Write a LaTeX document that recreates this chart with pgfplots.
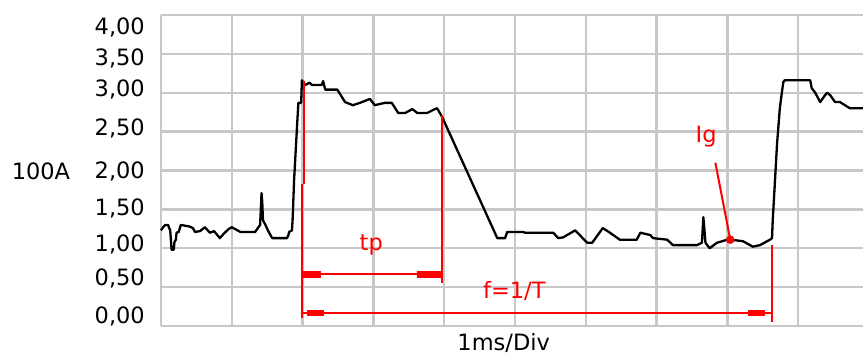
\documentclass[border=0pt]{standalone}
\usepackage{fontspec}
\setmainfont{DejaVu Sans}
\usepackage{pgfplots}
\pgfplotsset{compat=1.18}
\definecolor{gridc}{RGB}{200,200,200}
\newcommand\lab{\fontsize{22.5}{27}\selectfont}
\begin{document}
\begin{tikzpicture}[x=1pt,y=1pt]
\begin{axis}[
  at={(161pt,32pt)}, anchor=south west,
  scale only axis, width=702pt, height=311pt,
  xmin=0, xmax=9.915, ymin=0, ymax=4,
  axis line style={draw=none},
  xtick={0,1,2,3,4,5,6,7,8,9},
  xticklabel=\empty,
  xmajorgrids,
  major grid style={gridc, line width=2.4pt},
  minor ytick={0,0.5,1,1.5,2,2.5,3,3.5,4},
  yminorgrids,
  minor grid style={gridc, line width=2.4pt},
  ytick={0.129,0.617,1.055,1.518,1.994,2.547,3.048,3.447,3.846},
  yticklabels={{0,00},{0,50},{1,00},{1,50},{2,00},{2,50},{3,00},{3,50},{4,00}},
  yticklabel style={font=\lab, inner sep=0pt, xshift=-16pt},
  major tick length=0pt, minor tick length=0pt,
  clip=false,
]
\addplot[black, line width=2.3pt, line join=round] coordinates {
(0.00,1.23)(0.03,1.27)(0.06,1.30)(0.10,1.30)(0.12,1.25)(0.13,1.23)(0.15,0.98)(0.18,0.98)(0.19,1.08)(0.21,1.11)(0.22,1.20)(0.25,1.21)(0.28,1.30)(0.40,1.28)(0.45,1.26)(0.48,1.21)(0.55,1.22)(0.62,1.27)(0.69,1.20)(0.75,1.22)(0.83,1.13)(0.90,1.20)(0.96,1.25)(1.00,1.27)(1.12,1.21)(1.33,1.21)(1.36,1.25)(1.40,1.30)(1.42,1.71)(1.43,1.60)(1.44,1.36)(1.47,1.31)(1.51,1.23)(1.57,1.13)(1.78,1.13)(1.80,1.17)(1.81,1.21)(1.85,1.23)(1.86,1.39)(1.88,1.88)(1.91,2.38)(1.94,2.87)(1.98,2.87)(1.99,3.16)(2.03,3.10)(2.06,3.11)(2.10,3.13)(2.13,3.10)(2.27,3.10)(2.29,3.15)(2.32,3.04)(2.49,3.04)(2.60,2.88)(2.71,2.84)(2.81,2.87)(2.95,2.92)(3.02,2.84)(3.16,2.87)(3.26,2.87)(3.35,2.74)(3.45,2.74)(3.55,2.79)(3.62,2.74)(3.76,2.74)(3.87,2.79)(3.90,2.80)(3.97,2.69)(4.75,1.13)(4.86,1.13)(4.89,1.21)(5.11,1.21)(5.14,1.20)(5.54,1.20)(5.61,1.13)(5.68,1.14)(5.85,1.23)(6.02,1.07)(6.09,1.07)(6.24,1.26)(6.34,1.20)(6.48,1.11)(6.72,1.11)(6.77,1.20)(6.91,1.17)(6.95,1.13)(7.15,1.11)(7.23,1.04)(7.37,1.04)(7.57,1.04)(7.64,1.07)(7.66,1.40)(7.67,1.30)(7.69,1.07)(7.75,1.00)(7.85,1.07)(8.00,1.11)(8.05,1.11)(8.22,1.09)(8.36,1.02)(8.46,1.04)(8.60,1.11)(8.63,1.13)(8.64,1.36)(8.67,1.84)(8.70,2.33)(8.74,2.80)(8.77,3.01)(8.79,3.14)(8.81,3.16)(9.17,3.16)(9.19,3.06)(9.24,3.00)(9.31,2.88)(9.38,2.97)(9.41,3.00)(9.45,2.97)(9.52,2.88)(9.59,2.88)(9.73,2.80)(9.915,2.80)
};
% red annotations
\addplot[red, line width=2pt] coordinates {(2.02,3.15)(2.02,1.83)};
\addplot[red, line width=2pt] coordinates {(1.99,1.83)(1.99,0.10)};
\addplot[red, line width=2pt] coordinates {(3.97,2.72)(3.97,0.55)};
\addplot[red, line width=2pt] coordinates {(1.99,0.665)(3.97,0.665)};
\addplot[red, line width=6.5pt] coordinates {(2.00,0.665)(2.26,0.665)};
\addplot[red, line width=6.5pt] coordinates {(3.62,0.665)(3.96,0.665)};
\addplot[red, line width=2pt] coordinates {(1.99,0.167)(8.63,0.167)};
\addplot[red, line width=5.5pt] coordinates {(2.06,0.167)(2.30,0.167)};
\addplot[red, line width=5.5pt] coordinates {(8.29,0.167)(8.53,0.167)};
\addplot[red, line width=2pt] coordinates {(8.63,1.04)(8.63,0.05)};
\addplot[red, line width=2pt] coordinates {(7.83,2.10)(8.04,1.11)};
\addplot[red, only marks, mark=*, mark size=4pt] coordinates {(8.04,1.11)};
\node[red, font=\lab] at (axis cs:2.97,1.04) {tp};
\node[red, font=\lab] at (axis cs:4.99,0.45) {f=1/T};
\node[red, font=\lab] at (axis cs:7.70,2.44) {Ig};
\node[font=\lab] at (axis cs:-1.695,1.99) {100A};
\node[font=\lab, anchor=base, inner sep=0pt] at (axis cs:4.84,-0.310) {1ms/Div};
\end{axis}
\pgfresetboundingbox
\useasboundingbox (0,0) rectangle (863,358);
\end{tikzpicture}
\end{document}
